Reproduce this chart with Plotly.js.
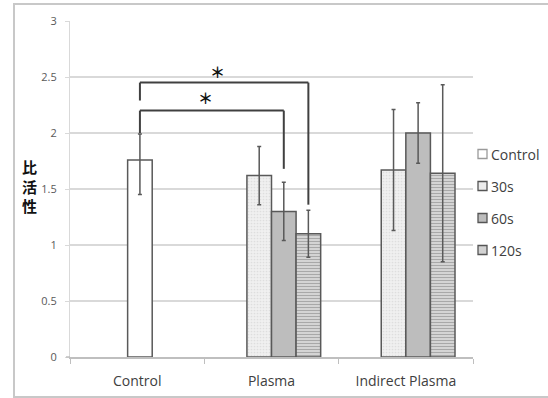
<!DOCTYPE html>
<html>
<head>
<meta charset="utf-8">
<script src="https://cdn.plot.ly/plotly-3.0.1.min.js"></script>
<style>html,body{margin:0;padding:0;background:#fff;}#chart{width:548px;height:398px;}</style>
</head>
<body>
<div id="chart"></div>
<script>
// ---- data ----
var categories = ['Control', 'Plasma', 'Indirect Plasma'];
var seriesNames = ['Control', '30s', '60s', '120s'];
var controlVals = [1.76, null, null];
var controlErrPlus = [0.23, 0, 0];
var controlErrMinus = [0.31, 0, 0];
var s30Vals = [null, 1.62, 1.67];
var s30Err = [0, 0.26, 0.54];
var s60Vals = [null, 1.30, 2.00];
var s60Err = [0, 0.26, 0.27];
var s120Vals = [null, 1.10, 1.64];
var s120Err = [0, 0.21, 0.79];
var yTickVals = [0, 0.5, 1, 1.5, 2, 2.5, 3];
var yTickText = ['0', '0.5', '1', '1.5', '2', '2.5', '3'];
// significance brackets: [category, series] ends, heights
var sigFrom = [[0, 0], [0, 0]];
var sigTo = [[1, 3], [1, 2]];
var sigLeftY = [2.29, 2.00];
var sigTopY = [2.45, 2.20];
var sigRightY = [1.36, 1.68];
var sigLabel = ['＊', '＊'];

// ---- styling ----
var seriesFill = ['#ffffff', '#ececec', '#bdbdbd', '#d2d2d2'];
var W = 0.183;               // bar width in category units
var offsets = [-0.071, -W, 0, W];   // per series offset from category centre
function barCenter(cat, s) { return cat + offsets[s] + W / 2; }

var edge = '#595959';
function barTrace(name, vals, errP, errM, idx, marker) {
  return {
    type: 'bar', name: name, x: categories, y: vals,
    width: W, offset: offsets[idx],
    marker: marker,
    error_y: {type: 'data', array: errP, arrayminus: errM, visible: true,
              color: '#595959', thickness: 1.5, width: 2},
    showlegend: false,
    hoverinfo: 'skip'
  };
}

var traces = [
  barTrace(seriesNames[0], controlVals, controlErrPlus, controlErrMinus, 0,
    {color: seriesFill[0], line: {color: edge, width: 1.5}}),
  barTrace(seriesNames[1], s30Vals, s30Err, s30Err, 1,
    {color: seriesFill[1], line: {color: edge, width: 1.5},
     pattern: {shape: '.', fgcolor: '#dedede', bgcolor: '#f0f0f0', size: 3, solidity: 0.25}}),
  barTrace(seriesNames[2], s60Vals, s60Err, s60Err, 2,
    {color: seriesFill[2], line: {color: edge, width: 1.5}}),
  barTrace(seriesNames[3], s120Vals, s120Err, s120Err, 3,
    {color: seriesFill[3], line: {color: edge, width: 1.5},
     pattern: {shape: '-', fgcolor: '#a8a8a8', bgcolor: '#d9d9d9', size: 3, solidity: 0.4}})
];

// plot area in pixels: x 70..473, y 21..357
function px2x(px) { return (px - 70) / 403; }
function px2y(py) { return (357 - py) / 336; }

var shapes = [
  // outer frame
  {type: 'rect', xref: 'paper', yref: 'paper', x0: px2x(14), x1: px2x(580), y0: px2y(397), y1: px2y(4),
   line: {color: '#c8c8c8', width: 2}, fillcolor: 'rgba(0,0,0,0)', layer: 'below'},
  // x axis line extends a little left of the y axis
  {type: 'line', xref: 'paper', yref: 'paper', x0: px2x(66), x1: px2x(70), y0: 0, y1: 0,
   line: {color: '#bfbfbf', width: 1.5}}
];
var annotations = [];
for (var i = 0; i < sigFrom.length; i++) {
  var xl = barCenter(sigFrom[i][0], sigFrom[i][1]);
  var xr = barCenter(sigTo[i][0], sigTo[i][1]);
  var ln = {color: '#404040', width: 2};
  shapes.push({type: 'line', xref: 'x', yref: 'y', x0: xl, x1: xl, y0: sigLeftY[i], y1: sigTopY[i], line: ln});
  shapes.push({type: 'line', xref: 'x', yref: 'y', x0: xl, x1: xr, y0: sigTopY[i], y1: sigTopY[i], line: ln});
  shapes.push({type: 'line', xref: 'x', yref: 'y', x0: xr, x1: xr, y0: sigTopY[i], y1: sigRightY[i], line: ln});
  annotations.push({xref: 'x', yref: 'y', x: (xl + xr) / 2 - 0.05, y: sigTopY[i], yanchor: 'bottom', yshift: i === 0 ? -1 : 1,
    text: '<b>' + sigLabel[i] + '</b>', showarrow: false,
    font: {family: 'Noto Sans CJK JP', size: 15, color: '#111'}});
}
annotations.push({xref: 'paper', yref: 'paper', x: -0.1, y: 0.51, xanchor: 'center', yanchor: 'middle',
  text: '<b>比<br>活<br>性</b>', showarrow: false,
  font: {family: 'Noto Sans CJK JP', size: 15, color: '#111'}});

// legend (drawn manually to match the compact layout)
var legTop = 154, legStep = 32, legSym = 478;
for (var k = 0; k < seriesNames.length; k++) {
  var cy = legTop + k * legStep;
  shapes.push({type: 'rect', xref: 'paper', yref: 'paper',
    x0: px2x(legSym), x1: px2x(legSym + 9), y0: px2y(cy + 4.5), y1: px2y(cy - 4.5),
    fillcolor: seriesFill[k], line: {color: k === 0 ? '#9a9a9a' : '#555555', width: 1.3}});
  annotations.push({xref: 'paper', yref: 'paper', x: px2x(legSym + 11), y: px2y(cy),
    xanchor: 'left', yanchor: 'middle', showarrow: false, text: seriesNames[k],
    font: {family: 'Open Sans', size: 14, color: '#404040'}});
}

var layout = {
  width: 548, height: 398,
  margin: {l: 70, r: 75, t: 21, b: 41, autoexpand: false},
  paper_bgcolor: '#ffffff', plot_bgcolor: '#ffffff',
  barmode: 'overlay',
  showlegend: false,
  xaxis: {
    type: 'category', range: [-0.5, 2.5], fixedrange: true,
    showline: true, linecolor: '#bfbfbf', linewidth: 1.5,
    ticks: 'outside', ticklen: 5, tickcolor: '#bfbfbf', tickson: 'boundaries',
    showgrid: false, zeroline: false, ticklabelstandoff: 11,
    tickfont: {family: 'Open Sans', size: 14, color: '#404040'}
  },
  yaxis: {
    range: [0, 3], tickvals: yTickVals, ticktext: yTickText, fixedrange: true,
    showline: true, linecolor: '#d9d9d9', linewidth: 1,
    ticks: 'outside', ticklen: 4, tickcolor: '#d9d9d9',
    showgrid: true, gridcolor: '#d9d9d9', gridwidth: 1.5, zeroline: false,
    tickfont: {family: 'Open Sans', size: 11, color: '#595959'}, ticklabelstandoff: 6
  },
  shapes: shapes,
  annotations: annotations
};

Plotly.newPlot('chart', traces, layout, {staticPlot: true, displayModeBar: false});
</script>
</body>
</html>
